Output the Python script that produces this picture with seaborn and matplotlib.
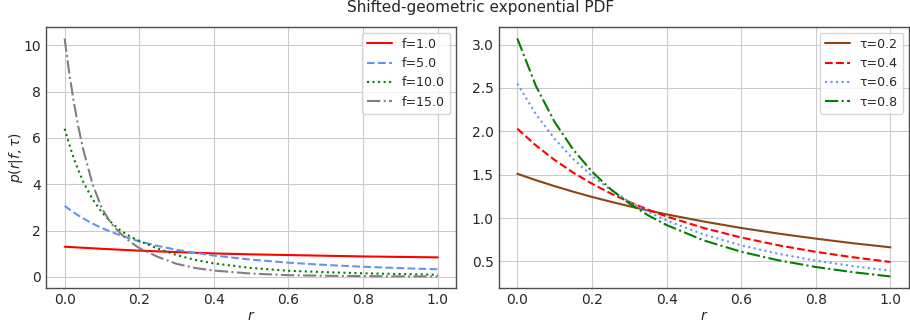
import matplotlib
matplotlib.use("Agg")
import matplotlib.pyplot as plt
import seaborn as sns

# ---- data ----
r_left = [0, 0.0125, 0.025, 0.0375, 0.05, 0.075, 0.1, 0.125, 0.15, 0.175, 0.2,
          0.25, 0.3, 0.35, 0.4, 0.5, 0.6, 0.7, 0.8, 0.9, 1.0]
f_labels = ["f=1.0", "f=5.0", "f=10.0", "f=15.0"]
p_f1 = [1.30, 1.289, 1.278, 1.266, 1.255, 1.233, 1.21, 1.19, 1.17, 1.15, 1.13,
        1.10, 1.07, 1.04, 1.01, 0.97, 0.94, 0.91, 0.88, 0.86, 0.84]
p_f5 = [3.07, 2.917, 2.775, 2.644, 2.521, 2.300, 2.107, 1.938, 1.788, 1.654, 1.535,
        1.333, 1.168, 1.032, 0.919, 0.741, 0.611, 0.512, 0.435, 0.375, 0.326]
p_f10 = [6.4, 5.72, 5.1, 4.58, 4.1, 3.35, 2.78, 2.35, 2.0, 1.75, 1.55,
         1.22, 0.94, 0.73, 0.58, 0.38, 0.26, 0.20, 0.15, 0.12, 0.09]
p_f15 = [10.3, 8.80, 7.52, 6.43, 5.49, 4.0, 2.95, 2.3, 1.87, 1.52, 1.24,
         0.86, 0.56, 0.38, 0.27, 0.14, 0.07, 0.045, 0.03, 0.02, 0.015]

r_right = [0, 0.05, 0.1, 0.15, 0.2, 0.25, 0.3, 0.35, 0.4, 0.5, 0.6, 0.7, 0.8, 0.9, 1.0]
tau_labels = ["τ=0.2", "τ=0.4", "τ=0.6", "τ=0.8"]
p_t02 = [1.51, 1.436, 1.367, 1.303, 1.243, 1.188, 1.136, 1.087, 1.042, 0.959,
         0.885, 0.820, 0.762, 0.709, 0.662]
p_t04 = [2.03, 1.836, 1.669, 1.523, 1.396, 1.284, 1.185, 1.097, 1.018, 0.884,
         0.775, 0.685, 0.610, 0.547, 0.493]
p_t06 = [2.55, 2.196, 1.912, 1.679, 1.486, 1.325, 1.188, 1.072, 0.972, 0.809,
         0.685, 0.587, 0.508, 0.445, 0.392]
p_t08 = [3.07, 2.521, 2.107, 1.788, 1.535, 1.333, 1.168, 1.032, 0.919, 0.741,
         0.611, 0.512, 0.435, 0.375, 0.326]

left_series = [p_f1, p_f5, p_f10, p_f15]
left_colors = ["red", "cornflowerblue", "green", "gray"]
left_styles = ["-", "--", ":", "-."]
right_series = [p_t02, p_t04, p_t06, p_t08]
right_colors = ["saddlebrown", "red", "cornflowerblue", "green"]
right_styles = ["-", "--", ":", "-."]

sns.set_style("whitegrid", {"axes.edgecolor": "0.3", "grid.color": "0.8"})
plt.rcParams["font.family"] = ["DejaVu Sans"]
plt.rcParams["xtick.major.size"] = 0
plt.rcParams["ytick.major.size"] = 0

fig, axes = plt.subplots(1, 2, figsize=(9.1, 3.24), dpi=100)

ax = axes[0]
for vals, lab, c, ls in zip(left_series, f_labels, left_colors, left_styles):
    sns.lineplot(x=r_left, y=vals, ax=ax, color=c, linestyle=ls, label=lab, linewidth=1.5)
ax.set_xlabel("$r$", labelpad=1)
ax.set_ylabel("$p(r|f,\\tau)$", labelpad=-1)
ax.legend(loc="upper right", fontsize=9)

ax = axes[1]
for vals, lab, c, ls in zip(right_series, tau_labels, right_colors, right_styles):
    sns.lineplot(x=r_right, y=vals, ax=ax, color=c, linestyle=ls, label=lab, linewidth=1.5)
ax.set_xlabel("$r$", labelpad=1)
ax.legend(loc="upper right", fontsize=9)

for a in axes:
    for s in a.spines.values():
        s.set_linewidth(1.0)

fig.suptitle("Shifted-geometric exponential PDF", fontsize=11, x=0.5286, y=1.0)
fig.subplots_adjust(left=0.0505, right=0.999, top=0.918, bottom=0.11, wspace=0.103)
fig.savefig("out.png", dpi=100)
